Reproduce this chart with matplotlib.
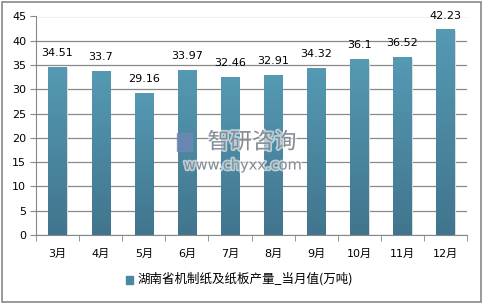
import matplotlib
matplotlib.use("Agg")
from matplotlib import pyplot as plt
from matplotlib.patches import Rectangle
import matplotlib.patheffects as pe
import numpy as np

plt.rcParams['font.family'] = ['DejaVu Sans', 'Noto Sans CJK SC']

months = ["3月", "4月", "5月", "6月", "7月", "8月", "9月", "10月", "11月", "12月"]
values = [34.51, 33.7, 29.16, 33.97, 32.46, 32.91, 34.32, 36.1, 36.52, 42.23]
series_name = "湖南省机制纸及纸板产量_当月值(万吨)"

fig = plt.figure(figsize=(4.86, 3.06), dpi=100)
ax = fig.add_axes([36/486, 1-235/306, (467-36)/486, (235-16.5)/306])

# outer frame
fig.patches.append(Rectangle((2/486, 4/306), 479/486, 300/306, transform=fig.transFigure,
                             fill=False, edgecolor="#888888", lw=1.2))

x = np.arange(len(months))
w = 0.42
grad = np.linspace(0, 1, 100).reshape(-1, 1)
cmap = matplotlib.colors.LinearSegmentedColormap.from_list("b", ["#41758d", "#5599b3"])
for xi, v in zip(x, values):
    # soft shadow
    ax.add_patch(Rectangle((xi - w/2 + 0.03, 0), w, v - 0.2, color="#dcdcdc", zorder=2, lw=0))
    ax.imshow(grad, extent=(xi - w/2, xi + w/2, 0, v), origin="lower", cmap=cmap,
              aspect="auto", zorder=3)
    ax.text(xi, v + 1.9, f"{v:g}", ha="center", va="bottom", fontsize=8, zorder=5)

ax.set_xlim(-0.5, len(months) - 0.5)
ax.set_ylim(0, 45)
ax.set_yticks(np.arange(0, 46, 5))
ax.set_xticks(x)
ax.set_xticklabels(months, fontsize=8)
ax.set_xticks(np.arange(-0.5, len(months), 1), minor=True)
ax.tick_params(axis="x", which="major", length=0, pad=10)
ax.tick_params(axis="x", which="minor", length=4, color="#888888")
ax.tick_params(axis="y", length=4, color="#888888", labelsize=8, pad=3)
ax.grid(axis="y", color="#888888", lw=0.9, zorder=1)
for s in ["top", "right"]:
    ax.spines[s].set_visible(False)
for s in ["left", "bottom"]:
    ax.spines[s].set_color("#888888")

# watermark
glow = [pe.withStroke(linewidth=2.5, foreground="white", alpha=0.6)]
fig.text(252/486, 1-142/306, "智研咨询", fontsize=16, color="#7c848c", ha="center", va="center",
         family=["Noto Sans CJK SC"], alpha=0.9, path_effects=glow)
fig.text(243/486, 1-165/306, "www.chyxx.com", fontsize=10.5, color="#7c848c", ha="center",
         va="center", alpha=0.9, path_effects=glow)
fig.patches.append(Rectangle((177/486, 1-151/306), 15/486, 18/306, transform=fig.transFigure,
                             color="#6f86b4", alpha=0.8, zorder=4))

# legend
fig.patches.append(Rectangle((126/486, 1-284/306), 7/486, 8/306, transform=fig.transFigure,
                             color="#4a88a2"))
fig.text(137/486, 1-279/306, series_name, fontsize=9, va="center", ha="left",
         family=["Noto Sans CJK SC", "DejaVu Sans"])

fig.savefig("out.png", dpi=100)
